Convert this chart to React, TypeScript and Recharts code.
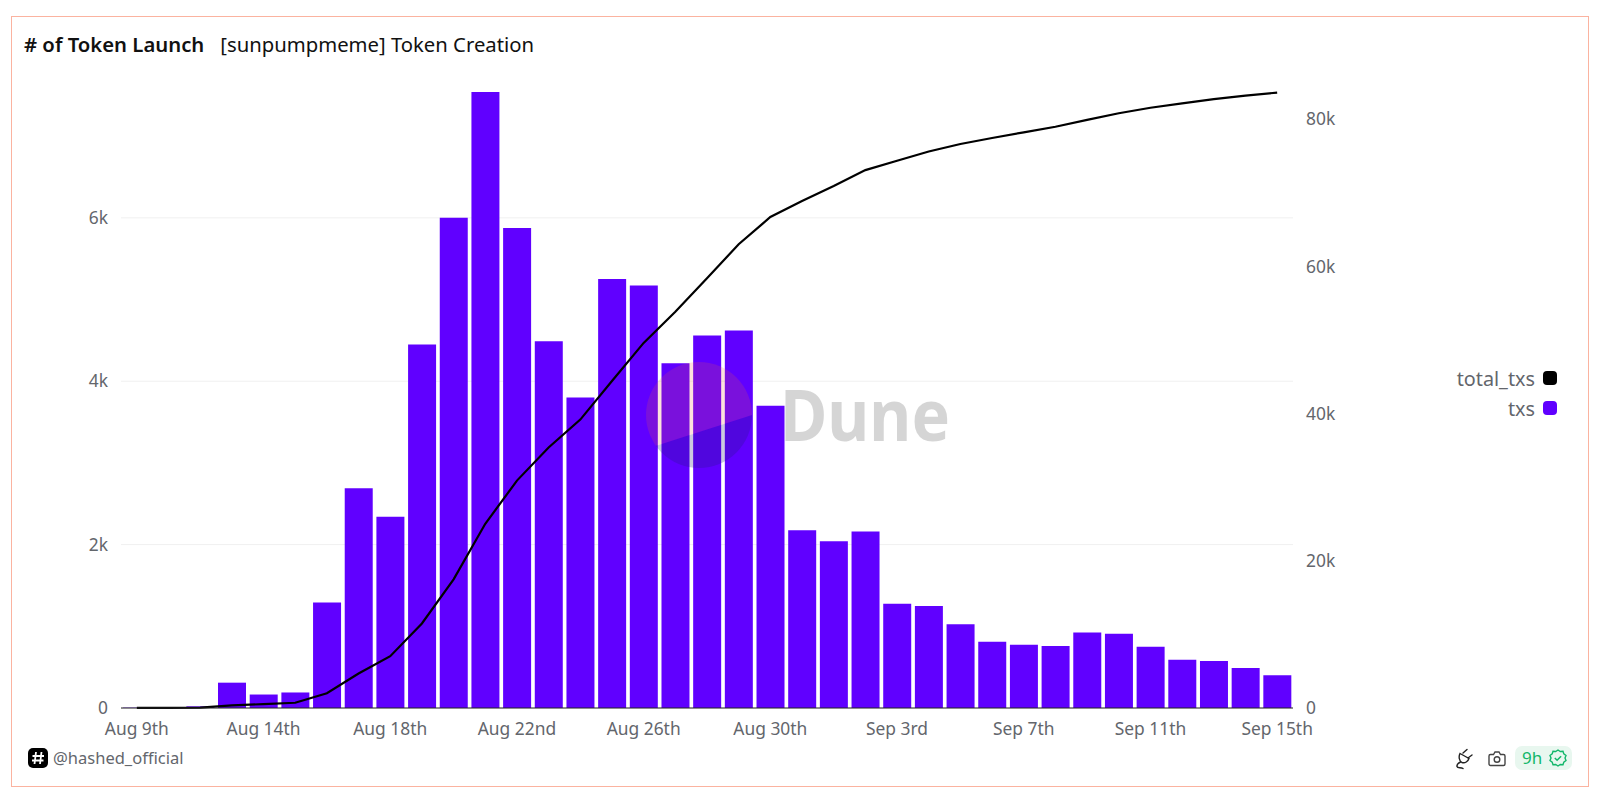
import { Bar, CartesianGrid, ComposedChart, Line, XAxis, YAxis } from "recharts";

const FONT = '"Noto Sans", sans-serif';
const PURPLE = "#6000ff";
const TICK_COLOR = "#63666c";

const days = [
  "Aug 9th", "Aug 11th", "Aug 12th", "Aug 13th", "Aug 14th", "Aug 15th", "Aug 16th", "Aug 17th",
  "Aug 18th", "Aug 19th", "Aug 20th", "Aug 21st", "Aug 22nd", "Aug 23rd", "Aug 24th", "Aug 25th",
  "Aug 26th", "Aug 27th", "Aug 28th", "Aug 29th", "Aug 30th", "Aug 31st", "Sep 1st", "Sep 2nd",
  "Sep 3rd", "Sep 4th", "Sep 5th", "Sep 6th", "Sep 7th", "Sep 8th", "Sep 9th", "Sep 10th",
  "Sep 11th", "Sep 12th", "Sep 13th", "Sep 14th", "Sep 15th",
];

const txs = [
  4, 8, 20, 310, 165, 190, 1290, 2690, 2340, 4450, 6000, 7540, 5875, 4490, 3800, 5250, 5170, 4220,
  4560, 4620, 3700, 2175, 2040, 2160, 1275, 1250, 1025, 810, 775, 760, 925, 910, 750, 590, 575, 490, 400,
];

const totalTxs = [
  10, 30, 50, 360, 525, 715, 2005, 4695, 7035, 11485, 17485, 25025, 30900, 35390, 39190, 44440,
  49610, 53830, 58390, 63010, 66710, 68885, 70925, 73085, 74360, 75610, 76635, 77445, 78220, 78980,
  79905, 80815, 81565, 82155, 82730, 83220, 83620,
];

const leftTicks = [0, 2000, 4000, 6000];
const rightTicks = [0, 20000, 40000, 60000, 80000];

const data = days.map((day, i) => ({ day, txs: txs[i], total_txs: totalTxs[i] }));

const fmtK = (v: number) => (v === 0 ? "0" : `${v / 1000}k`);

function LegendBox() {
  const items = [
    { label: "total_txs", color: "#000" },
    { label: "txs", color: PURPLE },
  ];
  return (
    <div style={{ position: "absolute", right: 43, top: 363, fontFamily: FONT, fontSize: 19.8, color: TICK_COLOR }}>
      {items.map((it) => (
        <div key={it.label} style={{ display: "flex", alignItems: "center", justifyContent: "flex-end", height: 30 }}>
          {it.label}
          <span
            style={{
              display: "inline-block",
              width: 14,
              height: 14,
              borderRadius: 4,
              marginLeft: 8,
              backgroundColor: it.color,
            }}
          />
        </div>
      ))}
    </div>
  );
}

function Watermark() {
  return (
    <svg width={1600} height={798} style={{ position: "absolute", left: 0, top: 0, pointerEvents: "none" }}>
      <defs>
        <clipPath id="dune-up">
          <polygon points="640,451 760,412.500 760,350 640,350" />
        </clipPath>
        <clipPath id="dune-low">
          <polygon points="640,451 760,412.500 760,480 640,480" />
        </clipPath>
      </defs>
      <circle cx={699} cy={415} r={53} fill="#f4603e" opacity={0.18} clipPath="url(#dune-up)" />
      <circle cx={699} cy={415} r={53} fill="#1e1870" opacity={0.23} clipPath="url(#dune-low)" />
      <text
        x={780}
        y={441}
        fontFamily={FONT}
        fontWeight={700}
        fontSize={72}
        fill="#000"
        opacity={0.16}
        textLength={170}
        lengthAdjust="spacingAndGlyphs"
      >
        Dune
      </text>
    </svg>
  );
}

function Footer() {
  return (
    <>
      <svg width={20} height={20} viewBox="0 0 20 20" style={{ position: "absolute", left: 28, top: 748 }}>
        <rect width={20} height={20} rx={5} fill="#000" />
        <path d="M8 4 6.5 16M13.5 4 12 16M4.5 8h11.5M4 12.5h11.5" stroke="#fff" strokeWidth={1.8} />
      </svg>
      <div
        style={{ position: "absolute", left: 53, top: 747, fontFamily: FONT, fontSize: 16.5, lineHeight: "22px", color: TICK_COLOR }}
      >
        @hashed_official
      </div>
      <svg width={20} height={22} viewBox="0 0 20 22" style={{ position: "absolute", left: 1454, top: 748 }}>
        <path
          d="M9 5 13 1.5M14 10l4-3M6 5.5l9 5c-1 3-4 5-7 4-3-1.500-3.500-6-2-9zM6.500 14c-2 1-4 2.500-3.500 4.500s4 .5 6 2"
          fill="none"
          stroke="#222"
          strokeWidth={1.4}
          strokeLinecap="round"
        />
      </svg>
      <svg width={18} height={16} viewBox="0 0 18 16" style={{ position: "absolute", left: 1488, top: 751 }}>
        <path
          d="M2.500 3.500h3l1.500-2.500h4l1.500 2.500h3a1.500 1.500 0 0 1 1.500 1.500v8a1.500 1.500 0 0 1-1.500 1.500h-13a1.500 1.500 0 0 1-1.500-1.500v-8a1.500 1.500 0 0 1 1.500-1.500z"
          fill="none"
          stroke="#444"
          strokeWidth={1.4}
        />
        <circle cx={9} cy={8.500} r={2.800} fill="none" stroke="#444" strokeWidth={1.4} />
      </svg>
      <div
        style={{
          position: "absolute",
          left: 1515,
          top: 746,
          width: 57,
          height: 24,
          borderRadius: 7,
          backgroundColor: "#e8f7ef",
          color: "#12b76a",
          fontFamily: FONT,
          fontSize: 17,
          lineHeight: "24px",
          paddingLeft: 7,
          boxSizing: "border-box",
        }}
      >
        9h
      </div>
      <svg width={18} height={18} viewBox="0 0 18 18" style={{ position: "absolute", left: 1549, top: 749 }}>
        <path
          d="M9 1l2.300 1.500 2.700-.2.800 2.600 2.200 1.600-1 2.500 1 2.500-2.200 1.600-.8 2.600-2.700-.2L9 17l-2.300-1.500-2.700.2-.8-2.600L1 11.500 2 9 1 6.500l2.200-1.600.8-2.600 2.700.2z"
          fill="none"
          stroke="#12b76a"
          strokeWidth={1.4}
        />
        <path d="M5.800 9l2.300 2.300 4-4" fill="none" stroke="#12b76a" strokeWidth={1.5} />
      </svg>
    </>
  );
}

export default function App() {
  return (
    <div style={{ position: "absolute", left: 0, top: 0, width: 1600, height: 798, background: "#fff", overflow: "hidden" }}>
      <div
        style={{
          position: "absolute",
          left: 11,
          top: 16,
          width: 1578,
          height: 771,
          boxSizing: "border-box",
          border: "1.5px solid #fbb3a0",
        }}
      />
      <div
        style={{
          position: "absolute",
          left: 24,
          top: 30,
          fontFamily: FONT,
          fontSize: 20.3,
          lineHeight: "28px",
          color: "#111",
          whiteSpace: "nowrap",
        }}
      >
        <span style={{ fontWeight: 600 }}># of Token Launch</span>
        <span style={{ marginLeft: 16 }}>[sunpumpmeme] Token Creation</span>
      </div>
      <div style={{ position: "absolute", left: 0, top: 0 }}>
        <ComposedChart
          width={1600}
          height={798}
          data={data}
          barCategoryGap={2}
          margin={{ top: 92, right: 0, bottom: 0, left: 0 }}
        >
          <CartesianGrid yAxisId="left" vertical={false} stroke="#f0f0f0" horizontalValues={leftTicks} />
          <XAxis
            dataKey="day"
            interval={3}
            height={90}
            tickLine={false}
            axisLine={{ stroke: "#222" }}
            tickMargin={9}
            tick={{ fontFamily: FONT, fontSize: 17.4, fill: TICK_COLOR }}
          />
          <YAxis
            yAxisId="left"
            width={121}
            domain={[0, 7540]}
            ticks={leftTicks}
            tickFormatter={fmtK}
            axisLine={false}
            tickLine={false}
            tickMargin={7}
            tick={{ fontFamily: FONT, fontSize: 17.4, fill: TICK_COLOR }}
          />
          <YAxis
            yAxisId="right"
            orientation="right"
            width={307}
            domain={[0, 83700]}
            ticks={rightTicks}
            tickFormatter={fmtK}
            axisLine={false}
            tickLine={false}
            tickMargin={7}
            tick={{ fontFamily: FONT, fontSize: 17.4, fill: TICK_COLOR }}
          />
          <Bar yAxisId="left" dataKey="txs" fill={PURPLE} isAnimationActive={false} />
          <Line
            yAxisId="right"
            dataKey="total_txs"
            stroke="#000"
            strokeWidth={2.2}
            dot={false}
            type="linear"
            isAnimationActive={false}
          />
        </ComposedChart>
      </div>
      <LegendBox />
      <Watermark />
      <Footer />
    </div>
  );
}
